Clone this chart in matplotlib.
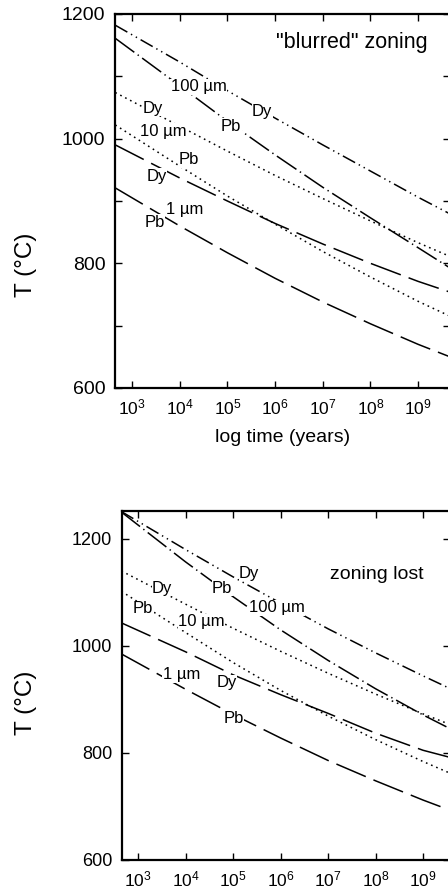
import numpy as np
import matplotlib as mpl
mpl.use('Agg')
import matplotlib.pyplot as plt
from matplotlib.ticker import LogFormatterMathtext, MultipleLocator, NullLocator

# log10 of time (years) where the curves were read
logt_top = [2.65, 4, 5, 6, 7, 8, 9, 9.7]
logt_bot = [2.65, 4, 5, 6, 7, 8, 9, 9.6]

# "blurred" zoning, closure T (C)
top_dy100 = [1182, 1123, 1077, 1033, 990, 948, 906, 878]
top_pb100 = [1161, 1085, 1028, 974, 922, 873, 825, 791]
top_dy10 = [1074, 1020, 980, 941, 904, 868, 833, 810]
top_pb10 = [1022, 956, 908, 863, 819, 778, 739, 714]
top_dy1 = [990, 937, 900, 864, 831, 800, 771, 753]
top_pb1 = [921, 860, 817, 776, 738, 703, 670, 649]

# zoning lost
bot_dy100 = [1251, 1180, 1129, 1080, 1032, 987, 944, 919]
bot_pb100 = [1250, 1157, 1092, 1030, 973, 920, 871, 844]
bot_dy10 = [1140, 1078, 1033, 990, 949, 910, 873, 852]
bot_pb10 = [1102, 1025, 969, 917, 869, 825, 784, 761]
bot_dy1 = [1043, 989, 946, 909, 874, 837, 805, 791]
bot_pb1 = [985, 919, 872, 828, 786, 748, 712, 692]

xticks = [1e3, 1e4, 1e5, 1e6, 1e7, 1e8, 1e9]

plt.rcParams['font.family'] = ['Liberation Sans', 'DejaVu Sans']
plt.rcParams['lines.scale_dashes'] = False

DDOT = (0, (10, 3, 1, 3, 1, 3))   # dash dot dot
DDASH = (0, (17, 3, 1, 3))        # dash dot
DOT = (0, (1.2, 2.8))
LDASH = (0, (23, 6))
LW = 1.1

fig = plt.figure(figsize=(4.48, 8.94), dpi=100)
ax1 = fig.add_axes([115/448, 1-388/894, 335/448, 374/894])
ax2 = fig.add_axes([122/448, 1-860/894, 328/448, 349/894])


def style(ax, lo, hi, ysize):
    ax.set_xscale('log')
    ax.set_xlim(10**lo, 10**hi)
    ax.set_xticks(xticks)
    ax.xaxis.set_major_formatter(LogFormatterMathtext())
    ax.xaxis.set_minor_locator(NullLocator())
    ax.tick_params(which='both', direction='in', top=True, right=True,
                   length=5, width=1, pad=7)
    ax.tick_params(axis='x', labelsize=12.5)
    ax.tick_params(axis='y', labelsize=ysize)
    for s in ax.spines.values():
        s.set_linewidth(1.6)


def curves(ax, t, series):
    x = 10**np.array(t)
    for y, ls in series:
        ax.plot(x, y, color='black', lw=LW, linestyle=ls)


def label(ax, lx, ty, s, size=12):
    ax.text(10**lx, ty, s, fontsize=size, ha='center', va='center',
            bbox=dict(facecolor='white', edgecolor='none', pad=0.2))


# ---- top panel ----
style(ax1, 2.644, 9.667, 14)
ax1.set_ylim(600, 1200)
ax1.yaxis.set_major_locator(MultipleLocator(200))
ax1.yaxis.set_minor_locator(MultipleLocator(100))
curves(ax1, logt_top, [(top_dy100, DDOT), (top_pb100, DDASH),
                       (top_dy10, DOT), (top_pb10, DOT),
                       (top_dy1, LDASH), (top_pb1, LDASH)])
label(ax1, 4.40, 1083, u'100 \u00b5m')
label(ax1, 5.73, 1043, 'Dy')
label(ax1, 5.08, 1020, 'Pb')
label(ax1, 3.44, 1049, 'Dy')
label(ax1, 3.65, 1012, u'10 \u00b5m')
label(ax1, 4.19, 966, 'Pb')
label(ax1, 3.52, 940, 'Dy')
label(ax1, 4.11, 887, u'1 \u00b5m')
label(ax1, 3.48, 866, 'Pb')
ax1.text(0.707, 0.925, '"blurred" zoning', transform=ax1.transAxes,
         fontsize=15.5, ha='center', va='center')
ax1.set_xlabel('log time (years)', fontsize=14, labelpad=8)
ax1.set_ylabel(u'T (\u00b0C)', fontsize=17.5)
ax1.yaxis.set_label_coords(-0.233, 0.33)

# ---- bottom panel ----
style(ax2, 2.663, 9.568, 13)
ax2.set_ylim(600, 1252)
ax2.set_yticks([600, 800, 1000, 1200])
curves(ax2, logt_bot, [(bot_dy100, DDOT), (bot_pb100, DDASH),
                       (bot_dy10, DOT), (bot_pb10, DOT),
                       (bot_dy1, LDASH), (bot_pb1, LDASH)])
label(ax2, 5.34, 1136, 'Dy')
label(ax2, 4.77, 1108, 'Pb')
label(ax2, 5.93, 1071, u'100 \u00b5m')
label(ax2, 3.51, 1107, 'Dy')
label(ax2, 3.11, 1069, 'Pb')
label(ax2, 4.33, 1045, u'10 \u00b5m')
label(ax2, 3.91, 946, u'1 \u00b5m')
label(ax2, 4.87, 931, 'Dy')
label(ax2, 5.02, 864, 'Pb')
ax2.text(0.777, 0.817, 'zoning lost', transform=ax2.transAxes,
         fontsize=14, ha='center', va='center')
ax2.set_ylabel(u'T (\u00b0C)', fontsize=17.5)
ax2.yaxis.set_label_coords(-0.259, 0.45)

fig.savefig('out.png', dpi=100)
